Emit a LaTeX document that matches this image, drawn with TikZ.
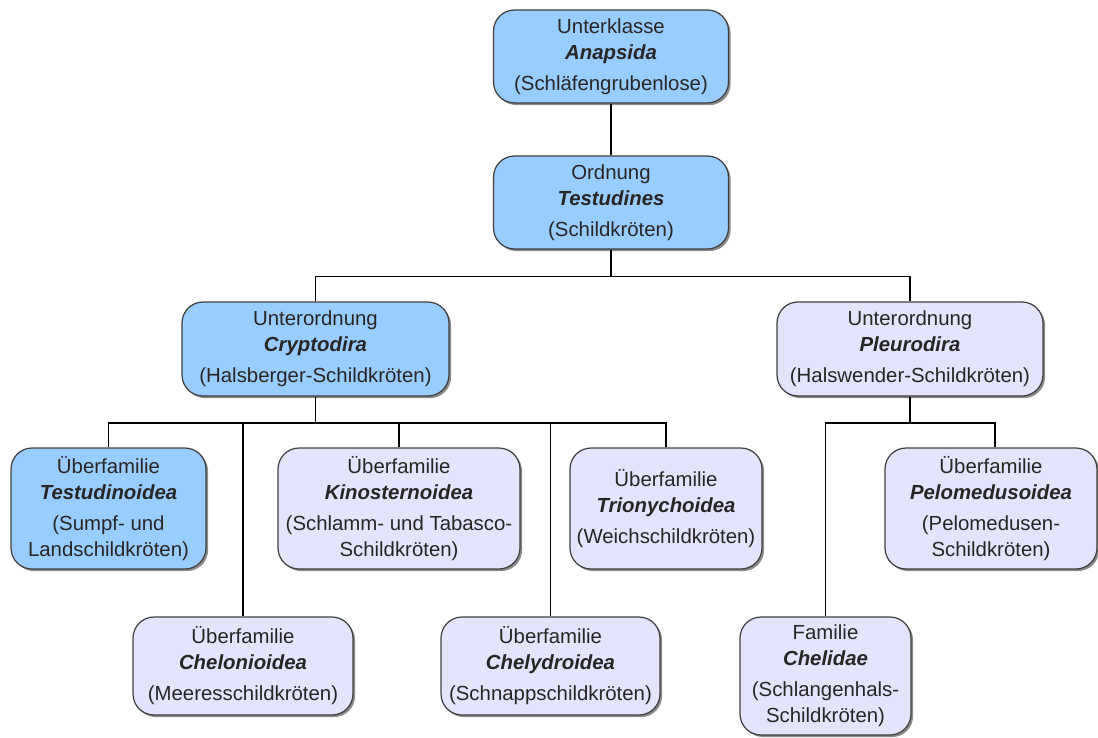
\documentclass[tikz,border=0pt]{standalone}
\usepackage{fontspec}
\setmainfont{Liberation Sans}
\usetikzlibrary{shadows,calc}
\definecolor{taxblue}{RGB}{153,204,255}
\definecolor{taxlav}{RGB}{228,228,252}
\definecolor{taxedge}{RGB}{64,64,64}
\begin{document}
\begin{tikzpicture}[x=0.02cm,y=-0.02cm,
  taxbox/.style={draw=taxedge, line width=0.7pt, rounded corners=0.42cm,
    align=center, inner sep=0pt, text=black!85,
    font=\fontsize{11.6}{14.7}\selectfont,
    drop shadow={shadow xshift=1.2pt, shadow yshift=-1.2pt, fill=black, opacity=0.45}},
  bluebox/.style={taxbox, fill=taxblue},
  lavbox/.style={taxbox, fill=taxlav},
  link/.style={draw=black, line width=0.6pt}]
\useasboundingbox (0,0) rectangle (1098,737);

% taxon boxes
\node[bluebox, minimum width=4.70cm, minimum height=1.86cm] (anap) at (611,56.5)
  {Unterklasse\\\textbf{\textit{Anapsida}}\\[3pt](Schläfengrubenlose)};
\node[bluebox, minimum width=4.70cm, minimum height=1.86cm] (test) at (611,202.5)
  {Ordnung\\\textbf{\textit{Testudines}}\\[3pt](Schildkröten)};
\node[bluebox, minimum width=5.34cm, minimum height=1.88cm] (cryp) at (315.5,349)
  {Unterordnung\\\textbf{\textit{Cryptodira}}\\[3pt](Halsberger-Schildkröten)};
\node[lavbox, minimum width=5.32cm, minimum height=1.88cm] (pleu) at (910,349)
  {Unterordnung\\\textbf{\textit{Pleurodira}}\\[3pt](Halswender-Schildkröten)};
\node[bluebox, minimum width=3.90cm, minimum height=2.42cm] (tsdn) at (108.5,508.5)
  {Überfamilie\\\textbf{\textit{Testudinoidea}}\\[3pt](Sumpf- und\\Landschildkröten)};
\node[lavbox, minimum width=4.84cm, minimum height=2.42cm] (kino) at (399,508.5)
  {Überfamilie\\\textbf{\textit{Kinosternoidea}}\\[3pt](Schlamm- und Tabasco-\\Schildkröten)};
\node[lavbox, minimum width=3.84cm, minimum height=2.42cm] (trio) at (666,508.5)
  {Überfamilie\\\textbf{\textit{Trionychoidea}}\\[3pt](Weichschildkröten)};
\node[lavbox, minimum width=4.24cm, minimum height=2.42cm] (pelo) at (991,508.5)
  {Überfamilie\\\textbf{\textit{Pelomedusoidea}}\\[3pt](Pelomedusen-\\Schildkröten)};
\node[lavbox, minimum width=4.40cm, minimum height=1.96cm] (chln) at (243,666)
  {Überfamilie\\\textbf{\textit{Chelonioidea}}\\[3pt](Meeresschildkröten)};
\node[lavbox, minimum width=4.38cm, minimum height=1.96cm] (chly) at (550.5,666)
  {Überfamilie\\\textbf{\textit{Chelydroidea}}\\[3pt](Schnappschildkröten)};
\node[lavbox, minimum width=3.42cm, minimum height=2.36cm] (chld) at (825.5,676)
  {Familie\\\textbf{\textit{Chelidae}}\\[3pt](Schlangenhals-\\Schildkröten)};

% branching levels
\coordinate (lv1) at (611,276.5);
\coordinate (lv2) at (315.5,423);
\coordinate (lv3) at (910,423);
\coordinate (pelotop) at ($(pelo.north)+(4,0)$);

% connectors
\draw[link] (anap.south) -- (test.north);
\draw[link] (test.south) -- (lv1);
\draw[link] (cryp.north) -- (cryp.north |- lv1) -- (pleu.north |- lv1) -- (pleu.north);

\draw[link] (cryp.south) -- (lv2);
\draw[link] (tsdn.north) -- (tsdn.north |- lv2) -- (trio.north |- lv2) -- (trio.north);
\draw[link] (chln.north) -- (chln.north |- lv2);
\draw[link] (kino.north) -- (kino.north |- lv2);
\draw[link] (chly.north) -- (chly.north |- lv2);

\draw[link] (pleu.south) -- (lv3);
\draw[link] (chld.north) -- (chld.north |- lv3) -- (pelotop |- lv3) -- (pelotop);
\end{tikzpicture}
\end{document}
